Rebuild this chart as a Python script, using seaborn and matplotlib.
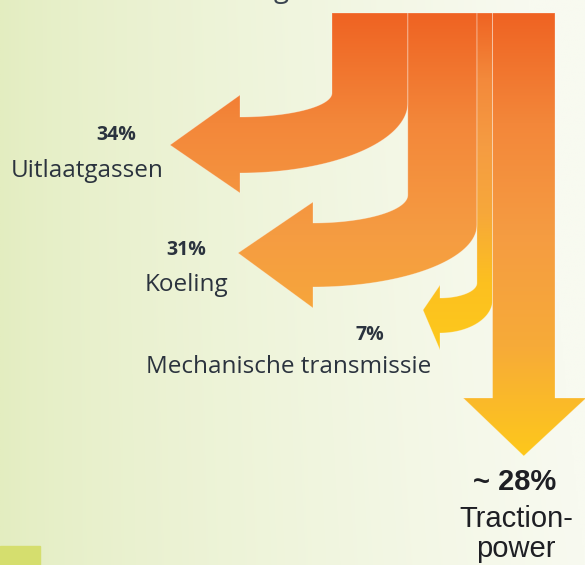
import numpy as np
import matplotlib
matplotlib.use("Agg")
import matplotlib.pyplot as plt
from matplotlib.patches import Polygon, Rectangle
import seaborn as sns

# energy split of the engine (percent of fuel energy)
labels = ["Uitlaatgassen", "Koeling", "Mechanische transmissie", "Traction-\npower"]
shares = [34, 31, 7, 28]
share_text = ["34%", "31%", "7%", "~ 28%"]

sns.set_theme(style="white")
plt.rcParams['font.family'] = ['Open Sans', 'DejaVu Sans']

W, H = 585, 565
fig = plt.figure(figsize=(W / 100, H / 100), dpi=100)
ax = fig.add_axes([0, 0, 1, 1])
ax.set_xlim(0, W)
ax.set_ylim(H, 0)
ax.axis("off")

# background: pale yellow-green on the left fading to near white
xx = np.linspace(0, 1, 300)[None, :]
yy = np.linspace(0, 1, 300)[:, None]
left = np.array([227, 237, 192]) / 255
right = np.array([248, 250, 240]) / 255
t = np.clip(xx ** 0.75 + 0.08 * (1 - yy) * xx, 0, 1)
bg = left[None, None, :] * (1 - t[..., None]) + right[None, None, :] * t[..., None]
ax.imshow(bg, extent=(0, W, H, 0), aspect="auto", zorder=0)
ax.add_patch(Rectangle((0, 546), 40, 20, color="#d5de6e", zorder=1))
# bottom of the cut-off title
ax.text(281, -3, "g", ha="center", va="baseline", fontsize=20, color="#3a4450", clip_on=False)

cmap = sns.blend_palette(["#ef6222", "#f3873a", "#f59c42", "#f7ab38", "#fec91a"], n_colors=256, as_cmap=True)
cmap_mech = sns.blend_palette(["#ef6222", "#f3893b", "#f59c42", "#f7a83a", "#fcc020", "#fdc91c"],
                              n_colors=256, as_cmap=True)
grad = np.linspace(0, 1, 256)[:, None]

# layout of the trunk
x0, y_top, total_w = 332, 13, 223
widths = [s / 100 * total_w for s in shares]
edges = np.concatenate([[x0], x0 + np.cumsum(widths)])

# per branch: arrow end x, inner arc start y, shaft top y, outer arc start y, shaft thickness,
# head top y, head bottom y, tip x, tip y
turns = [
    (240, 93, 117, 103, 56, 95, 193, 170, 145),
    (313, 195, 223, 225, 64, 202, 308, 238, 253),
    (440, 283, 298, 300, 35, 285, 350, 423, 310),
]


def branch_poly(x_in, x_out, x_end, yci, s_top, yco, shaft, h_top, h_bot, tip_x, tip_y):
    s_bot = s_top + shaft
    a = np.linspace(0, np.pi / 2, 50)
    pts = [(x_in, y_top), (x_out, y_top), (x_out, yco)]
    pts += list(zip(x_end + (x_out - x_end) * np.cos(a), yco + (s_bot - yco) * np.sin(a)))
    pts += [(x_end, h_bot), (tip_x, tip_y), (x_end, h_top), (x_end, s_top)]
    a2 = a[::-1]
    pts += list(zip(x_end + (x_in - x_end) * np.cos(a2), yci + (s_top - yci) * np.sin(a2)))
    return pts


def fill_gradient(pts, cm, y0=10, y1=460):
    patch = Polygon(pts, closed=True, facecolor="none", edgecolor="white", lw=0.6, alpha=0.3, zorder=3)
    ax.add_patch(patch)
    im = ax.imshow(grad, cmap=cm, extent=(0, W, y1, y0), aspect="auto", zorder=2)
    im.set_clip_path(patch)


for i, turn in enumerate(turns):
    pts = branch_poly(edges[i], edges[i + 1], *turn)
    if i == 2:
        fill_gradient(pts, cmap_mech, 10, 350)
    else:
        fill_gradient(pts, cmap)

# traction arrow going straight down
xa, xb = edges[3], edges[4]
tw = xb - xa
trunk = [(xa, y_top), (xb, y_top), (xb, 398), (xb + tw * 0.5, 398),
         ((xa + xb) / 2, 456), (xa - tw * 0.47, 398), (xa, 398)]
fill_gradient(trunk, cmap)

txt = "#2b333e"
ax.text(116, 135, share_text[0], ha="center", va="center", fontsize=14, fontweight="bold", color=txt)
ax.text(87, 171, labels[0], ha="center", va="center", fontsize=17.5, color=txt)
ax.text(186, 250, share_text[1], ha="center", va="center", fontsize=14, fontweight="bold", color=txt)
ax.text(186, 285, labels[1], ha="center", va="center", fontsize=17.5, color=txt)
ax.text(370, 335, share_text[2], ha="center", va="center", fontsize=14, fontweight="bold", color=txt)
ax.text(289, 367, labels[2], ha="center", va="center", fontsize=17.5, color=txt)

tfont = ["Liberation Sans", "DejaVu Sans"]
ax.text(515, 482, share_text[3], ha="center", va="center", fontsize=21, fontweight="bold",
        color="#1e1f24", family=tfont)
for j, line in enumerate(labels[3].split("\n")):
    ax.text(516, 527 + 30 * j, line, ha="center", va="baseline", fontsize=21, color="#1e1f24", family=tfont)

fig.savefig("out.png", dpi=100)
